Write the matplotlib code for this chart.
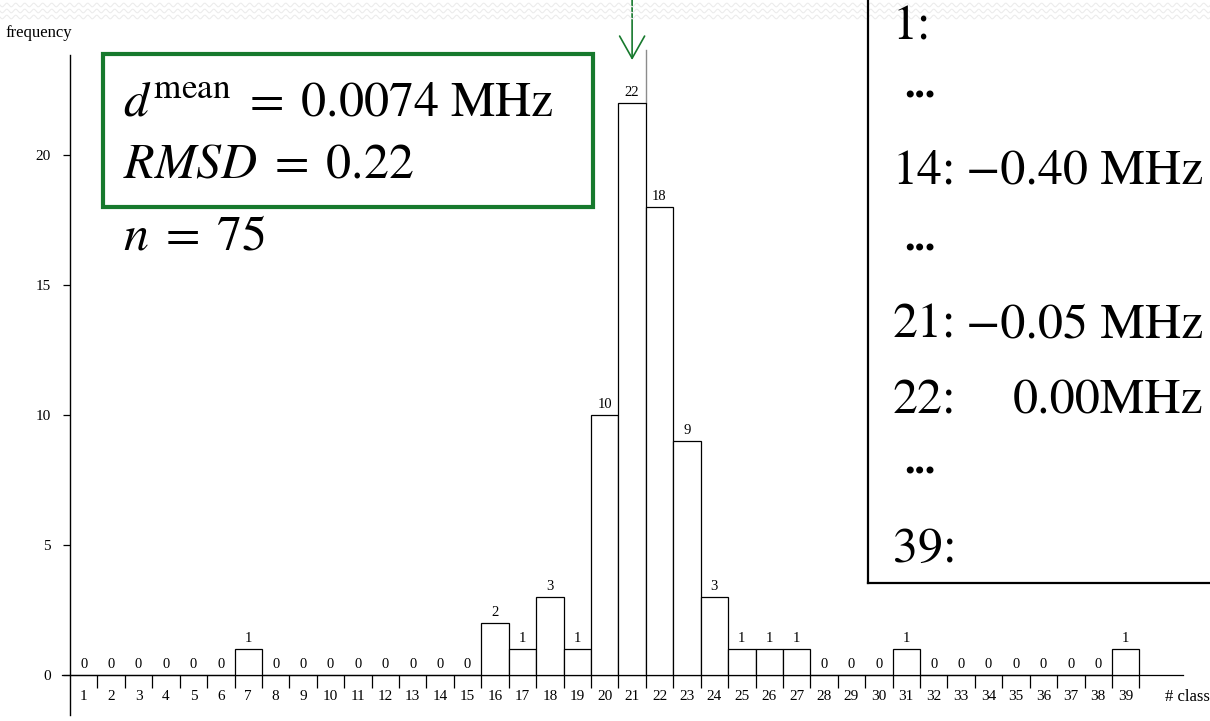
import numpy as np
import matplotlib
matplotlib.use('Agg')
import matplotlib.pyplot as plt
from matplotlib.patches import Rectangle
from matplotlib.lines import Line2D

# ---------------- data ----------------
classes = list(range(1, 40))
frequency = [0, 0, 0, 0, 0, 0, 1, 0, 0, 0, 0, 0, 0, 0, 0, 2, 1, 3, 1, 10,
             22, 18, 9, 3, 1, 1, 1, 0, 0, 0, 1, 0, 0, 0, 0, 0, 0, 0, 1]
y_ticks = [0, 5, 10, 15, 20]
stats_lines = [r'$d^{\mathrm{mean}}\;=\;0.0074\ \mathrm{MHz}$',
               r'$RMSD\;=\;0.22$']
n_line = r'$n\;=\;75$'
class_labels = ['1:', '14:', '21:', '22:', '39:']
class_values = ['', '\u22120.40 MHz', '\u22120.05 MHz', '0.00MHz', '']

# ---------------- style ----------------
plt.rcParams['font.family'] = ['Liberation Serif', 'DejaVu Serif']
plt.rcParams['mathtext.fontset'] = 'stix'

W, H = 1210, 721
fig = plt.figure(figsize=(W / 100, H / 100), dpi=100)
fig.patch.set_facecolor('white')


def fx(px):
    return np.asarray(px) / W


def fy(py):
    return 1 - np.asarray(py) / H


GREEN = '#17792d'

# axes: spans pixels x 62..1183, y 55..715
ax = fig.add_axes([fx(62), fy(715), fx(1183) - fx(62), fy(55) - fy(715)])
ppc = 27.42   # pixels per class
ppu = 26.0    # pixels per frequency unit
ax.set_xlim(0.5 - 8 / ppc, 0.5 + (1183 - 70) / ppc)
ax.set_ylim(-40 / ppu, 620 / ppu)
ax.set_facecolor('none')

bars = ax.bar(classes, frequency, width=1.0, facecolor='white',
              edgecolor='black', linewidth=0.9, zorder=3)
ax.bar_label(bars, padding=3, fontsize=10.5)

for s in ['top', 'right']:
    ax.spines[s].set_visible(False)
ax.spines['left'].set_position(('data', 0.5))
ax.spines['bottom'].set_position(('data', 0))
ax.spines['left'].set_linewidth(1.0)
ax.spines['bottom'].set_linewidth(0.9)

ax.set_xticks(np.arange(1.5, 40, 1.0))
ax.tick_params(axis='x', which='major', direction='out', length=9.5,
               width=0.9, labelbottom=False)
ax.set_xticks(classes, minor=True)
ax.set_xticklabels([str(c) for c in classes], minor=True)
ax.tick_params(axis='x', which='minor', length=0, pad=11, labelsize=11)

ax.set_yticks(y_ticks)
ax.tick_params(axis='y', direction='out', length=5, width=0.9, pad=9,
               labelsize=11)

# peak arrow and marker line
peak_class = classes[int(np.argmax(frequency))]
ax.annotate('', xy=(peak_class, (675 - 60) / ppu), xycoords='data',
            xytext=(peak_class, 1.0), textcoords=('data', 'figure fraction'),
            arrowprops=dict(arrowstyle='->,head_length=0.8,head_width=0.45',
                            color=GREEN, lw=1.2, shrinkA=0, shrinkB=0,
                            mutation_scale=20),
            annotation_clip=False)
ax.plot([peak_class + 0.5] * 2, [max(frequency), (675 - 50) / ppu],
        color='#8c8c8c', lw=1.0, clip_on=False, zorder=2)

# axis titles
fig.text(fx(5), fy(37), 'frequency', fontsize=12, va='baseline')
fig.text(fx(1165), fy(697), '# class', fontsize=12, va='center')

# decorative wavy band at top
xs = np.linspace(0, W, 3000)
for row in [5, 11, 17]:
    fig.add_artist(Line2D(fx(xs), fy(row + 1.8 * np.sin(2 * np.pi * xs / 9)),
                          color='#ececec', lw=0.8))

# green stats box
fig.add_artist(Rectangle((fx(103), fy(207)), fx(593) - fx(103),
                         fy(54) - fy(207), transform=fig.transFigure,
                         fill=False, edgecolor=GREEN, lw=3))
fig.text(fx(123), fy(116), stats_lines[0], fontsize=36, va='baseline')
fig.text(fx(123), fy(178), stats_lines[1], fontsize=36, va='baseline')
fig.text(fx(123), fy(249), n_line, fontsize=36, va='baseline')

# right legend box
fig.add_artist(Line2D([fx(868), fx(868)], [fy(583), 1.01], color='black', lw=1.6))
fig.add_artist(Line2D([fx(868), 1.01], [fy(583), fy(583)], color='black', lw=1.6))

label_base = [40, 183, 338, 413, 562]
value_x = [966, 966, 966, 1013, 966]
for lab, val, b, vx in zip(class_labels, class_values, label_base, value_x):
    fig.text(fx(893), fy(b), lab, fontsize=36, va='baseline',
             family='STIXGeneral')
    if val:
        fig.text(fx(vx), fy(b), val, fontsize=36, va='baseline',
                 family='STIXGeneral')
for b in [97, 250, 473]:
    fig.text(fx(904), fy(b), '...', fontsize=30, va='baseline',
             family='STIXGeneral', fontweight='bold')

fig.savefig('out.png', dpi=100, facecolor='white')
